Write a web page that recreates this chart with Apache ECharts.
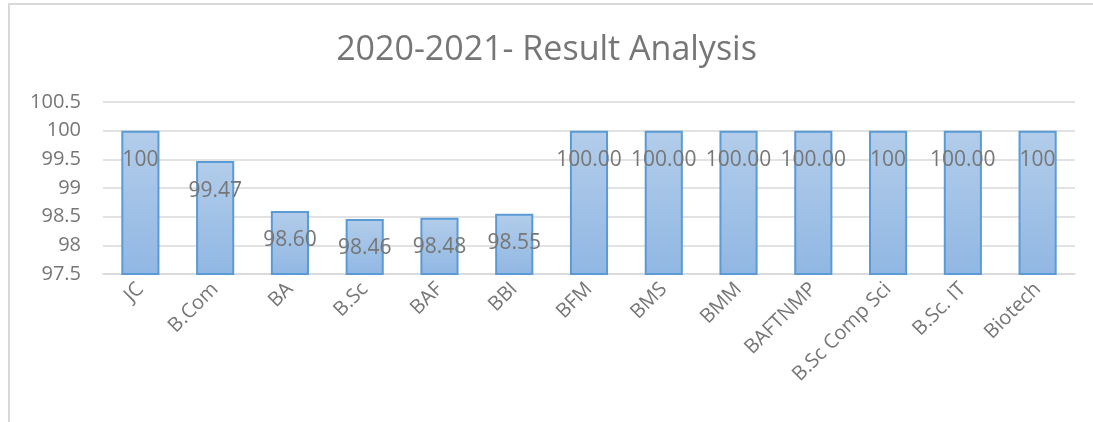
<!DOCTYPE html>
<html>
<head>
<meta charset="utf-8">
<script src="https://cdn.jsdelivr.net/npm/echarts@6/dist/echarts.min.js"></script>
<style>
  html, body { margin: 0; padding: 0; background: #fff; }
  #chart { width: 1093px; height: 422px; }
</style>
</head>
<body>
<div id="chart"></div>
<script>
const categories = ['JC', 'B.Com', 'BA', 'B.Sc', 'BAF', 'BBI', 'BFM', 'BMS', 'BMM', 'BAFTNMP', 'B.Sc Comp Sci', 'B.Sc. IT', 'Biotech']
const values = [100, 99.47, 98.60, 98.46, 98.48, 98.55, 100, 100, 100, 100, 100, 100, 100]
const labelTexts = ['100', '99.47', '98.60', '98.46', '98.48', '98.55', '100.00', '100.00', '100.00', '100.00', '100', '100.00', '100']

const textColor = '#767676'
const font = '"Open Sans", sans-serif'

const chart = echarts.init(document.getElementById('chart'))

chart.setOption({
  animation: false,
  backgroundColor: '#fff',
  title: {
    text: '2020-2021- Result Analysis',
    left: 'center',
    top: 28,
    textStyle: {
      color: textColor,
      fontFamily: font,
      fontSize: 34,
      fontWeight: 'normal'
    }
  },
  graphic: [
    {
      type: 'rect',
      shape: { x: 9, y: 4, width: 1200, height: 500 },
      style: { fill: 'none', stroke: '#d9d9d9', lineWidth: 2 },
      silent: true
    }
  ],
  grid: {
    left: 103,
    right: 18,
    top: 102,
    bottom: 148
  },
  xAxis: {
    type: 'category',
    data: categories,
    axisLine: { lineStyle: { color: '#d9d9d9', width: 1.5 } },
    axisTick: { show: false },
    axisLabel: {
      rotate: 45,
      color: textColor,
      fontFamily: font,
      fontSize: 20,
      margin: 12,
      interval: 0
    }
  },
  yAxis: {
    type: 'value',
    min: 97.5,
    max: 100.5,
    interval: 0.5,
    axisLine: { show: false },
    axisTick: { show: false },
    splitLine: { lineStyle: { color: '#d9d9d9', width: 1.5 } },
    axisLabel: {
      color: textColor,
      fontFamily: font,
      fontSize: 20,
      margin: 22
    }
  },
  series: [
    {
      type: 'bar',
      data: values,
      barWidth: '51%',
      itemStyle: {
        color: new echarts.graphic.LinearGradient(0, 0, 0, 1, [
          { offset: 0, color: '#b3cdea' },
          { offset: 1, color: '#90b7e3' }
        ]),
        borderColor: '#5b9bd5',
        borderWidth: 2
      },
      label: {
        show: true,
        position: 'insideTop',
        distance: 19,
        color: textColor,
        fontFamily: font,
        fontSize: 21,
        formatter: (p) => labelTexts[p.dataIndex]
      }
    }
  ]
})
</script>
</body>
</html>
